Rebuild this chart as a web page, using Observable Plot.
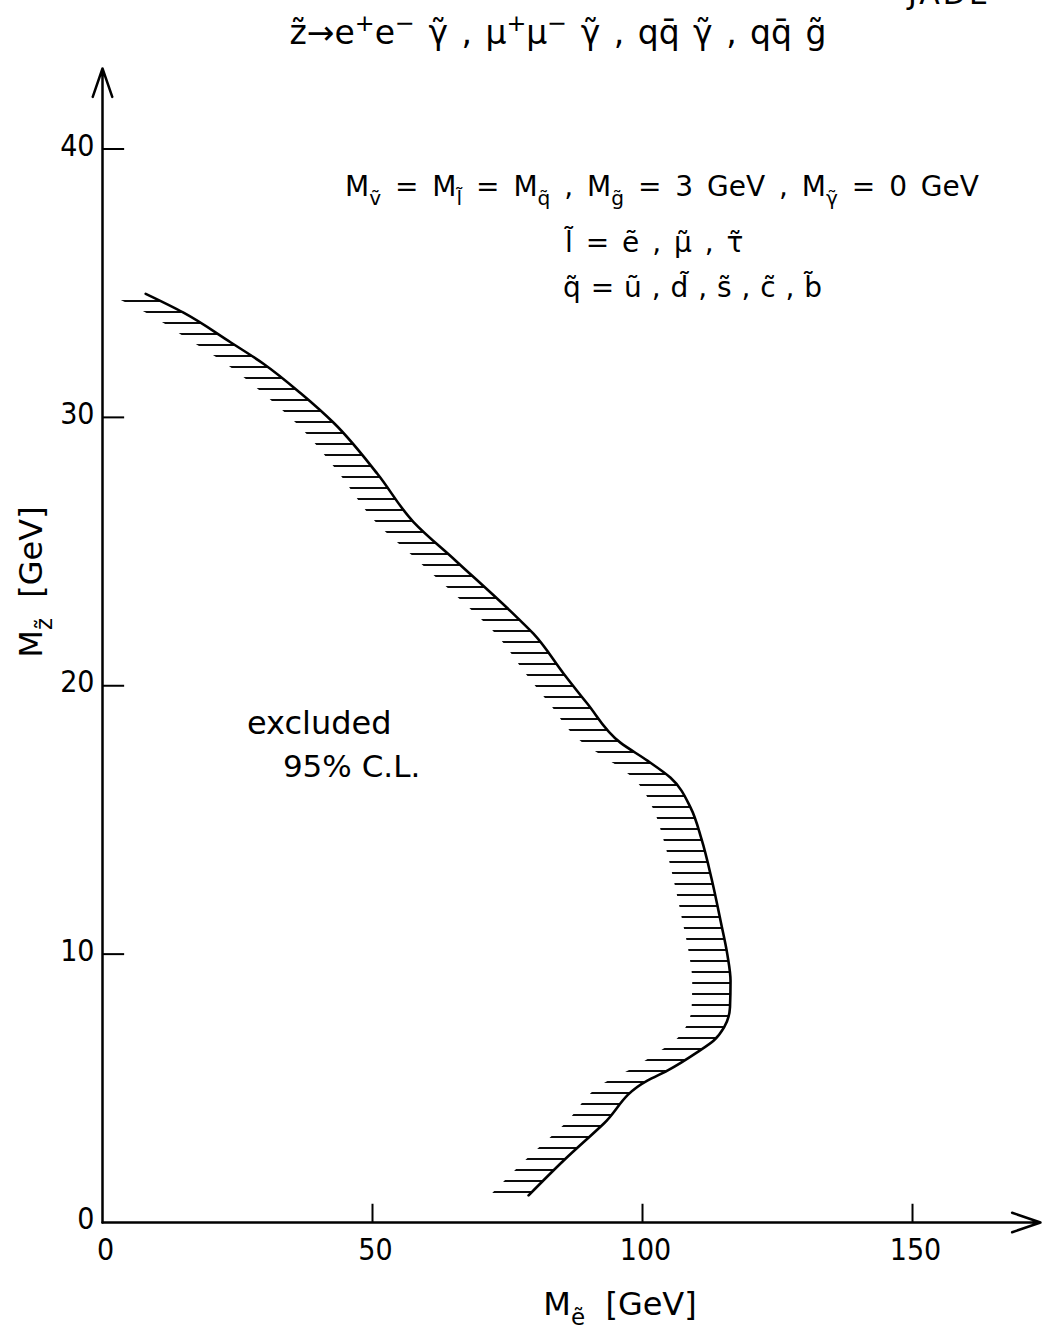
<!DOCTYPE html>
<html>
<head>
<meta charset="utf-8">
<script src="https://cdn.jsdelivr.net/npm/d3@7"></script>
<script src="https://cdn.jsdelivr.net/npm/@observablehq/plot@0.6"></script>
<style>
  html, body { margin: 0; padding: 0; background: white; }
  #chart svg { display: block; }
</style>
</head>
<body>
<div id="chart"></div>
<script>
// Exclusion boundary (M_e~ [GeV] vs M_z~ [GeV]), traced from top-left to bottom
const curveX = [8.0, 15.0, 23.7, 29.8, 36.7, 42.8, 50.9, 57.6, 65.4, 76.8, 79.8, 85.4, 89.8, 95.9, 100.9, 105.2, 108.9, 110.9, 112.8, 114.5, 115.7, 116.3, 116.2, 115.1, 113.2, 110.1, 104.6, 100.9, 92.8, 85.4, 78.9];
const curveY = [34.6, 33.9, 32.8, 32.0, 30.9, 29.8, 27.9, 26.1, 24.66, 22.54, 21.94, 20.45, 19.33, 17.88, 17.21, 16.57, 15.46, 14.3, 12.8, 11.2, 10.0, 9.0, 8.02, 7.27, 6.78, 6.34, 5.66, 5.29, 3.68, 2.31, 1.01];
const xTicks = [0, 50, 100, 150];
const yTicks = [0, 10, 20, 30, 40];
const xMax = 173.7;
const yMax = 43;

const curve = curveX.map((x, i) => ({x, y: curveY[i]}));
const hatchLen = 7;
const FONT = "DejaVu Sans";
const NUMFONT = "'DejaVu Sans Condensed', 'Liberation Sans Narrow', 'DejaVu Sans'";

const chart = Plot.plot({
  width: 1046,
  height: 1330,
  marginLeft: 102,
  marginRight: 6,
  marginTop: 68,
  marginBottom: 108,
  x: {domain: [0, xMax], axis: null},
  y: {domain: [0, yMax], axis: null},
  style: {fontFamily: FONT, background: "white", color: "black", overflow: "visible"},
  marks: [
    Plot.areaX(curve, {y: "y", x1: d => d.x - hatchLen, x2: "x", fill: "url(#hatch)", curve: "monotone-y"}),
    Plot.line(curve, {x: "x", y: "y", stroke: "black", strokeWidth: 2.6, curve: "monotone-y"}),
    Plot.arrow([0], {x1: 0, y1: 0, x2: xMax, y2: 0, stroke: "black", strokeWidth: 2.5, headLength: 18, headAngle: 38}),
    Plot.arrow([0], {x1: 0, y1: 0, x2: 0, y2: yMax, stroke: "black", strokeWidth: 2.5, headLength: 18, headAngle: 38}),
    Plot.ruleX(xTicks.slice(1), {x: d => d, y1: 0, y2: 0.68, stroke: "black", strokeWidth: 2}),
    Plot.ruleY(yTicks.slice(1), {y: d => d, x1: 0, x2: 4.1, stroke: "black", strokeWidth: 2}),
    Plot.text(xTicks, {x: d => d, y: 0, dy: 28, dx: 3, text: d => String(d), fontSize: 30, fontFamily: NUMFONT}),
    Plot.text(yTicks, {x: 0, y: d => d, dx: -8, dy: -3, textAnchor: "end", text: d => String(d), fontSize: 30, fontFamily: NUMFONT})
  ]
});

document.getElementById("chart").appendChild(chart);

const svg = d3.select(chart);
// hatch pattern
const defs = svg.insert("defs", ":first-child");
const pat = defs.append("pattern").attr("id", "hatch").attr("patternUnits", "userSpaceOnUse")
  .attr("width", 12).attr("height", 11);
pat.append("line").attr("x1", 0).attr("x2", 12).attr("y1", 4).attr("y2", 4)
  .attr("stroke", "black").attr("stroke-width", 1.9);

const X = chart.scale("x").apply, Y = chart.scale("y").apply;

function rich(px, py, segs, size, anchor = "start", rotate = 0, extra = {}) {
  const t = svg.append("text").attr("x", px).attr("y", py)
    .attr("font-size", size).attr("font-family", FONT)
    .attr("text-anchor", anchor).attr("fill", "black");
  for (const k in extra) t.attr(k, extra[k]);
  if (rotate) t.attr("transform", `rotate(${rotate},${px},${py})`);
  let shift = 0;
  for (const [s, kind] of segs) {
    const target = kind === 1 ? 0.32 * size : kind === 2 ? -0.38 * size : 0;
    const ts = t.append("tspan").text(s).attr("dy", target - shift);
    if (kind) ts.attr("font-size", size * 0.72);
    shift = target;
  }
  return t;
}

// corner label (cut off at top edge, as in the reference)
rich(908, 4, [["JADE", 0]], 30, "start", 0, {"letter-spacing": 3});
// title
rich(558, 44, [["z̃→e", 0], ["+", 2], ["e", 0], ["−", 2], [" γ̃ , μ", 0], ["+", 2], ["μ", 0], ["−", 2], [" γ̃ , qq̄ γ̃ , qq̄ g̃", 0]], 33, "middle", 0, {"word-spacing": 3});
// annotations
rich(345, 196, [["M", 0], ["ṽ", 1], [" = M", 0], ["l̃", 1], [" = M", 0], ["q̃", 1], [" , M", 0], ["g̃", 1], [" = 3 GeV , M", 0], ["γ̃", 1], [" = 0 GeV", 0]], 28, "start", 0, {"word-spacing": 5});
rich(565, 252, [["l̃ = ẽ , μ̃ , τ̃", 0]], 28, "start", 0, {"word-spacing": 4});
rich(563, 297, [["q̃ = ũ , d̃ , s̃ , c̃ , b̃", 0]], 28, "start", 0, {"word-spacing": 1});
rich(X(26.85), Y(18.17), [["excluded", 0]], 32);
rich(X(33.5), Y(16.57), [["95% C.L.", 0]], 31);
// axis labels
rich(42, 582, [["M", 0], ["z̃", 1], ["  [GeV]", 0]], 32, "middle", -90);
rich(620, 1315, [["M", 0], ["ẽ", 1], ["  [GeV]", 0]], 32, "middle");
</script>
</body>
</html>
